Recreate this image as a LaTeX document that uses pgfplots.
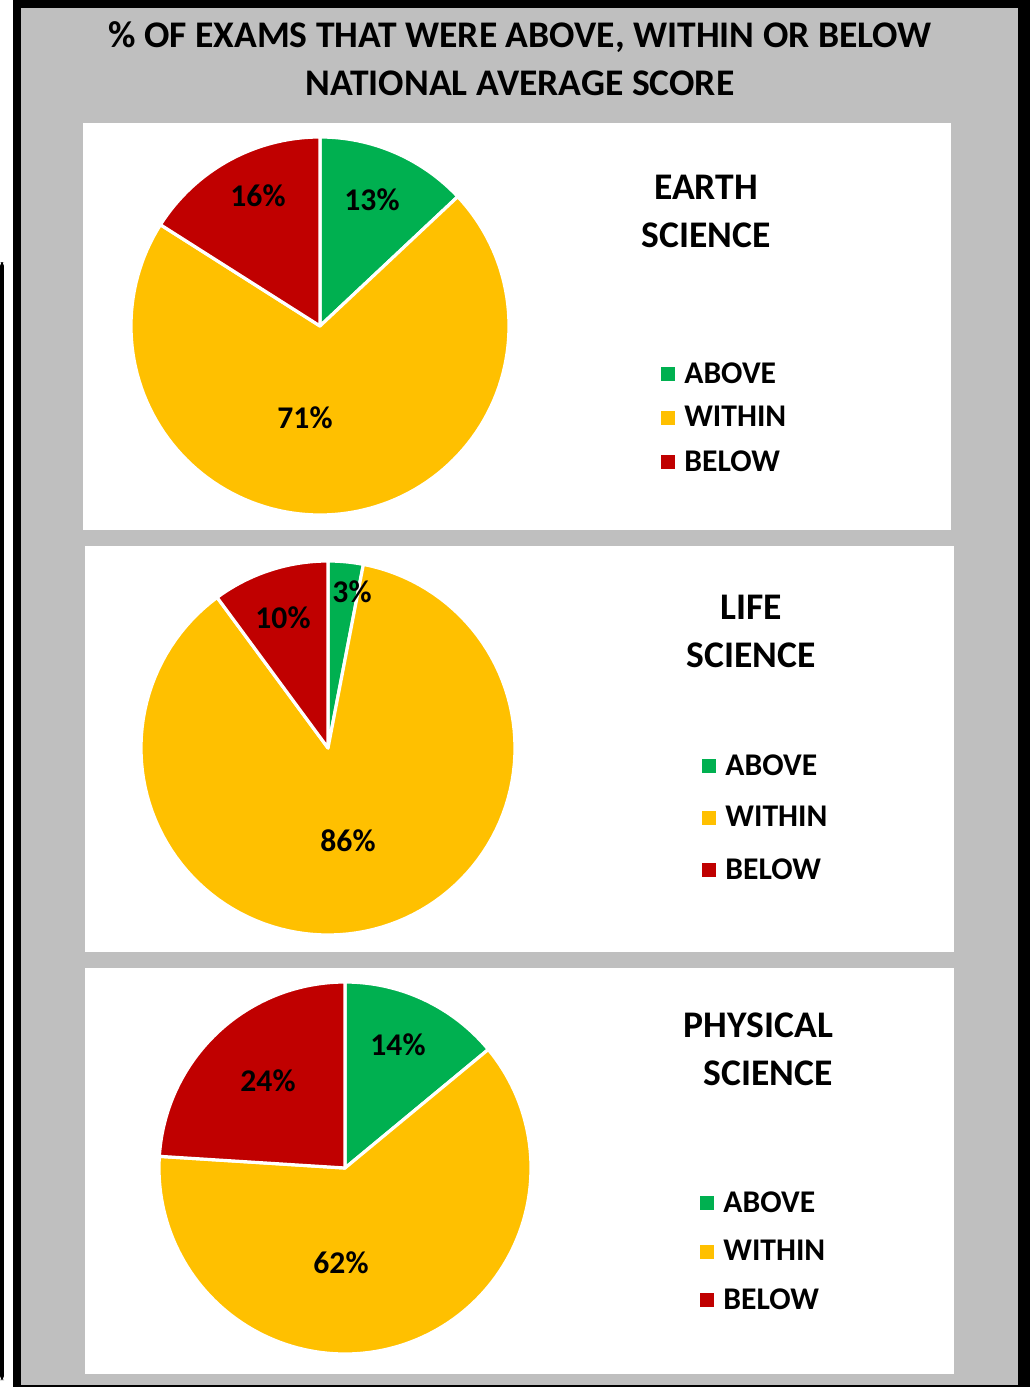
\documentclass[border=0pt]{standalone}
\usepackage{pgfplots}
\pgfplotsset{compat=1.18}
\usepackage{fontspec}
\setmainfont{Carlito}

\definecolor{above}{HTML}{00B050}
\definecolor{within}{HTML}{FFC000}
\definecolor{below}{HTML}{C00000}
\definecolor{frame}{HTML}{BFBFBF}

\newcommand{\bigfont}{\fontsize{18.8}{24}\selectfont\bfseries}
\newcommand{\lblfont}{\fontsize{15.8}{18}\selectfont\bfseries}

% one pie: centre x, centre y, radius (px), above, within, below (%)
\newcommand{\pie}[6]{%
  \pgfmathsetmacro{\degper}{360/(#4+#5+#6)}%
  \pgfmathsetmacro{\ea}{\degper*#4}%
  \pgfmathsetmacro{\ew}{\degper*(#4+#5)}%
  \addplot[slice, fill=above, domain=0:\ea] ({#1+#3*sin(\t)}, {#2-#3*cos(\t)}) -- (axis cs:#1,#2) -- cycle;
  \addplot[slice, fill=within, domain=\ea:\ew] ({#1+#3*sin(\t)}, {#2-#3*cos(\t)}) -- (axis cs:#1,#2) -- cycle;
  \addplot[slice, fill=below, domain=\ew:360] ({#1+#3*sin(\t)}, {#2-#3*cos(\t)}) -- (axis cs:#1,#2) -- cycle;
}

\pgfplotsset{
  slice/.style={draw=white, line width=1.6pt, line join=round, samples=120, variable=\t},
  panel/.style={hide axis, x=0.5pt, y=0.5pt, xmin=0, xmax=1030, ymin=0, ymax=1387,
    y dir=reverse, clip=false, scale only axis, legend cell align=left,
    legend image code/.code={\fill[##1, draw=none] (0pt,-3.5pt) rectangle (7pt,3.5pt);},
    legend style={draw=none, fill=none, inner xsep=0pt, inner ysep=0pt,
      font=\lblfont, anchor=north west,
      /tikz/every odd column/.append style={column sep=2.5pt}}},
}

\begin{document}
\begin{tikzpicture}
% frame and panels
\begin{axis}[panel]
\fill[white] (axis cs:0,0) rectangle (axis cs:1030,1387);
\fill[black] (axis cs:13,0) rectangle (axis cs:1030,1387);
\fill[frame] (axis cs:21,8) rectangle (axis cs:1018,1385);
\fill[black, rounded corners=2pt] (axis cs:0,262) rectangle (axis cs:4,1380);
\fill[white] (axis cs:83,123) rectangle (axis cs:951,530);
\fill[white] (axis cs:85,546) rectangle (axis cs:954,952);
\fill[white] (axis cs:85,968) rectangle (axis cs:954,1374);
\node[font=\bigfont, align=center] at (axis cs:520,59)
  {\% OF EXAMS THAT WERE ABOVE, WITHIN OR BELOW\\NATIONAL AVERAGE SCORE};
\end{axis}

% earth science
\begin{axis}[panel, legend style={at={(axis description cs:0.6417,0.7419)}, /tikz/row sep=6.2pt}]
\pie{320}{326}{189}{13}{71}{16}
\legend{ABOVE,WITHIN,BELOW}
\node[font=\lblfont] at (axis cs:372,200) {13\%};
\node[font=\lblfont] at (axis cs:305,418) {71\%};
\node[font=\lblfont] at (axis cs:258,196) {16\%};
\node[font=\bigfont, align=center] at (axis cs:706,211) {EARTH\\SCIENCE};
\end{axis}

% life science
\begin{axis}[panel, legend style={at={(axis description cs:0.6816,0.4593)}, /tikz/row sep=10.2pt}]
\pie{328}{748}{187}{3}{86}{10}
\legend{ABOVE,WITHIN,BELOW}
\node[font=\lblfont] at (axis cs:352,592) {3\%};
\node[font=\lblfont] at (axis cs:348,841) {86\%};
\node[font=\lblfont] at (axis cs:283,618) {10\%};
\node[font=\bigfont, align=center] at (axis cs:751,631) {LIFE\\SCIENCE};
\end{axis}

% physical science
\begin{axis}[panel, legend style={at={(axis description cs:0.6796,0.1442)}, /tikz/row sep=8.5pt}]
\pie{345}{1168}{186}{14}{62}{24}
\legend{ABOVE,WITHIN,BELOW}
\node[font=\lblfont] at (axis cs:398,1045) {14\%};
\node[font=\lblfont] at (axis cs:341,1263) {62\%};
\node[font=\lblfont] at (axis cs:268,1081) {24\%};
\node[font=\bigfont, align=right, anchor=east] at (axis cs:840,1049) {PHYSICAL\\SCIENCE};
\end{axis}
\end{tikzpicture}
\end{document}
